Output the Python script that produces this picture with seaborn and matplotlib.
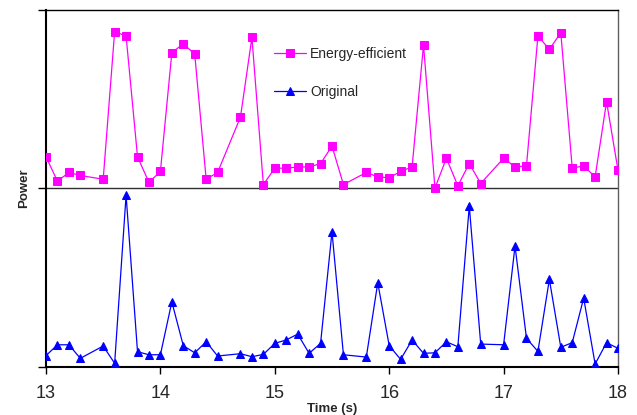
import numpy as np
import pandas as pd
import matplotlib
matplotlib.use("Agg")
import matplotlib.pyplot as plt
import seaborn as sns

# Time samples (s)
time = [12.9, 13.0, 13.1, 13.2, 13.3, 13.5, 13.6, 13.7, 13.8, 13.9, 14.0, 14.1, 14.2, 14.3,
        14.4, 14.5, 14.7, 14.8, 14.9, 15.0, 15.1, 15.2, 15.3, 15.4, 15.5, 15.6, 15.8,
        15.9, 16.0, 16.1, 16.2, 16.3, 16.4, 16.5, 16.6, 16.7, 16.8, 17.0, 17.1, 17.2,
        17.3, 17.4, 17.5, 17.6, 17.7, 17.8, 17.9, 18.0, 18.1]

# Power (arbitrary units, 0-100 within each panel)
energy_efficient = [48, 17.8, 4.1, 9.0, 7.3, 5.2, 88.0, 85.6, 17.8, 3.4, 9.6, 76.2, 81.2, 75.4,
                    5.2, 9.0, 40.1, 84.8, 2.2, 11.4, 11.4, 12.1, 12.1, 14.0, 23.8, 2.2, 9.0,
                    6.5, 6.0, 9.6, 12.1, 80.5, 0.2, 17.0, 1.5, 14.0, 2.8, 17.0, 12.1, 12.7,
                    85.6, 78.1, 87.4, 11.4, 12.7, 6.5, 48.7, 10.3, 10.0]

original = [None, 6.2, 12.3, 12.3, 4.7, 11.6, 1.9, 96.2, 8.4, 6.7, 6.7, 36.4, 11.8, 7.8,
            14.0, 6.0, 7.3, 5.6, 6.9, 13.1, 15.0, 18.3, 7.5, 13.1, 75.7, 6.7, 5.4,
            47.1, 11.8, 4.1, 15.0, 7.5, 7.8, 14.0, 11.2, 90.1, 12.7, 12.3, 67.7, 15.9,
            8.6, 49.0, 10.9, 13.5, 38.5, 1.5, 13.5, 10.3, 9.5]

series_names = ["Energy-efficient", "Original"]
x_ticks = [13, 14, 15, 16, 17, 18]

sns.set_style("white")
plt.rcParams["font.family"] = ["Liberation Sans", "DejaVu Sans"]

df_e = pd.DataFrame({"t": time, "p": np.array(energy_efficient, dtype=float) + 100})
df_o = pd.DataFrame({"t": time, "p": np.array([np.nan if v is None else v for v in original], dtype=float)})
df_o = df_o.dropna()

fig = plt.figure(figsize=(6.37, 4.15), dpi=100)
ax = fig.add_axes([46 / 637, 1 - 366.7 / 415, 572 / 637, 356.4 / 415])

ax.axhline(100, color="#303030", lw=1.0, zorder=1)

sns.lineplot(data=df_e, x="t", y="p", ax=ax, color="#FF00FF", marker="s", markersize=5.5,
             markeredgecolor="#FF00FF", linewidth=0.9, label=series_names[0], sort=False, zorder=3)
sns.lineplot(data=df_o, x="t", y="p", ax=ax, color="#0000FF", marker="^", markersize=6,
             markeredgecolor="#0000FF", linewidth=0.9, label=series_names[1], sort=False, zorder=3)

ax.set_xlim(13, 18)
ax.set_ylim(0, 200)
ax.set_xticks(x_ticks)
ax.set_xticklabels([str(v) for v in x_ticks], fontsize=13)
ax.set_yticks([0, 100, 200])
ax.set_yticklabels([])
ax.tick_params(axis="x", direction="out", length=5, width=1, color="black", pad=8, bottom=True)
ax.tick_params(axis="y", direction="out", length=6, width=1, color="black", left=True)

ax.set_xlabel("Time (s)", fontsize=9.5, fontweight="bold", labelpad=1)
ax.set_ylabel("Power", fontsize=9.5, fontweight="bold", labelpad=2)

for side in ["left", "bottom"]:
    ax.spines[side].set_color("black")
    ax.spines[side].set_linewidth(1.5)
ax.spines["top"].set_color("black")
ax.spines["top"].set_linewidth(1.0)
ax.spines["right"].set_color("#606060")
ax.spines["right"].set_linewidth(1.0)

leg = ax.legend(loc="upper left", bbox_to_anchor=(0.399, 0.897), frameon=False,
                fontsize=10, borderpad=0, borderaxespad=0, handlelength=2.3,
                handletextpad=0.3, labelspacing=1.75)

fig.savefig("out.png", dpi=100)
